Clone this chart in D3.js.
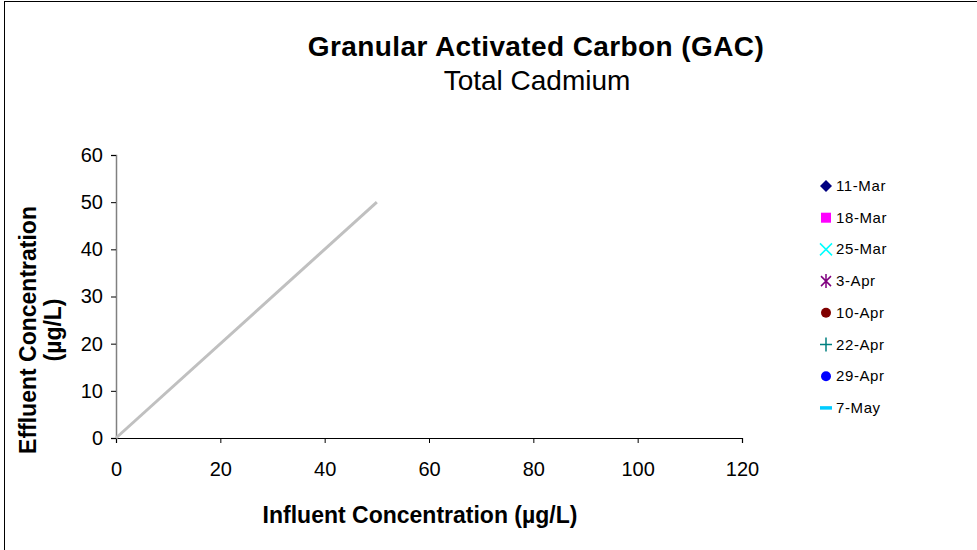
<!DOCTYPE html>
<html>
<head>
<meta charset="utf-8">
<script src="https://cdn.jsdelivr.net/npm/d3@7"></script>
<style>
  body { margin: 0; background: #fff; }
  text { font-family: "Liberation Sans", Arial, sans-serif; }
</style>
</head>
<body>
<script>
// chart data
var seriesNames = ['11-Mar', '18-Mar', '25-Mar', '3-Apr', '10-Apr', '22-Apr', '29-Apr', '7-May'];
var seriesColors = ['#000080', '#ff00ff', '#00ffff', '#800080', '#800000', '#008080', '#0000ff', '#00ccff'];
var seriesSymbols = ['diamond', 'square', 'x', 'star', 'circle', 'plus', 'circle', 'dash'];
// no measured points are plotted in the reference
var seriesValues = [[], [], [], [], [], [], [], []];
var oneToOne = [[0, 0], [50, 50]]; // 1:1 reference line
var xTicks = [0, 20, 40, 60, 80, 100, 120];
var yTicks = [0, 10, 20, 30, 40, 50, 60];

var width = 977, height = 550;

var svg = d3.select('body').append('svg')
  .attr('width', width)
  .attr('height', height);

// outer chart border
svg.append('rect')
  .attr('x', 4.5).attr('y', 1.5)
  .attr('width', 990).attr('height', 600)
  .attr('fill', 'none').attr('stroke', '#000').attr('stroke-width', 1);

var x = d3.scaleLinear().domain([0, 120]).range([116, 742]);
var y = d3.scaleLinear().domain([0, 60]).range([438, 155]);

// titles
svg.append('text').attr('x', 536).attr('y', 56)
  .attr('text-anchor', 'middle').attr('font-size', 28).attr('font-weight', 'bold')
  .attr('letter-spacing', 0.4)
  .text('Granular Activated Carbon (GAC)');
svg.append('text').attr('x', 537).attr('y', 90)
  .attr('text-anchor', 'middle').attr('font-size', 28)
  .text('Total Cadmium');

// y axis
var yAxis = svg.append('g')
  .attr('transform', 'translate(' + x(0) + ',0)')
  .call(d3.axisLeft(y).tickValues(yTicks).tickSize(5).tickPadding(8));
yAxis.select('.domain').attr('stroke', '#808080').attr('stroke-width', 1.5);
yAxis.selectAll('.tick line').attr('stroke', '#000');
yAxis.selectAll('text').attr('font-size', 20).attr('fill', '#000')
  .style('font-family', '"Liberation Sans", Arial, sans-serif');

// x axis
var xAxis = svg.append('g')
  .attr('transform', 'translate(0,' + y(0) + ')')
  .call(d3.axisBottom(x).tickValues(xTicks).tickSize(5).tickPadding(19));
xAxis.select('.domain').attr('stroke', '#000').attr('stroke-width', 1.2);
xAxis.selectAll('text').attr('font-size', 20).attr('fill', '#000')
  .style('font-family', '"Liberation Sans", Arial, sans-serif');

// axis titles
svg.append('text')
  .attr('transform', 'translate(36,330) rotate(-90)')
  .attr('text-anchor', 'middle').attr('font-size', 23).attr('font-weight', 'bold')
  .text('Effluent Concentration');
svg.append('text')
  .attr('transform', 'translate(61,330) rotate(-90)')
  .attr('text-anchor', 'middle').attr('font-size', 23).attr('font-weight', 'bold')
  .text('(\u00b5g/L)');
svg.append('text').attr('x', 420).attr('y', 523)
  .attr('text-anchor', 'middle').attr('font-size', 23).attr('font-weight', 'bold')
  .text('Influent Concentration (\u00b5g/L)');

// 1:1 line
svg.append('path')
  .datum(oneToOne)
  .attr('fill', 'none').attr('stroke', '#c0c0c0').attr('stroke-width', 3)
  .attr('d', d3.line().x(function(d) { return x(d[0]); }).y(function(d) { return y(d[1]); }));

// marker drawing helper
function drawMarker(g, sym, color) {
  if (sym === 'diamond') {
    g.append('path').attr('d', 'M0,-6L6,0L0,6L-6,0Z').attr('fill', color);
  } else if (sym === 'square') {
    g.append('rect').attr('x', -5).attr('y', -5).attr('width', 10).attr('height', 10).attr('fill', color);
  } else if (sym === 'x') {
    g.append('path').attr('d', 'M-6,-6L6,6M-6,6L6,-6').attr('stroke', color).attr('stroke-width', 1.5);
  } else if (sym === 'star') {
    g.append('path').attr('d', 'M-5,-5L5,5M-5,5L5,-5M0,-7L0,7').attr('stroke', color).attr('stroke-width', 1.5);
  } else if (sym === 'circle') {
    g.append('circle').attr('r', 5).attr('fill', color);
  } else if (sym === 'plus') {
    g.append('path').attr('d', 'M-6,0L6,0M0,-7L0,7').attr('stroke', color).attr('stroke-width', 1.5);
  } else if (sym === 'dash') {
    g.append('path').attr('d', 'M-6,0L6,0').attr('stroke', color).attr('stroke-width', 3.5);
  }
}

// data points (none in reference)
seriesValues.forEach(function(vals, i) {
  vals.forEach(function(d) {
    var g = svg.append('g').attr('transform', 'translate(' + x(d[0]) + ',' + y(d[1]) + ')');
    drawMarker(g, seriesSymbols[i], seriesColors[i]);
  });
});

// legend
var legend = svg.selectAll('.legend')
  .data(seriesNames)
  .enter().append('g')
  .attr('class', 'legend')
  .attr('transform', function(d, i) { return 'translate(826,' + (186 + i * 31.7) + ')'; });

legend.each(function(d, i) { drawMarker(d3.select(this), seriesSymbols[i], seriesColors[i]); });

legend.append('text')
  .attr('x', 10).attr('y', 5)
  .attr('font-size', 15).attr('letter-spacing', 0.6).attr('fill', '#000')
  .text(function(d) { return d; });
</script>
</body>
</html>
